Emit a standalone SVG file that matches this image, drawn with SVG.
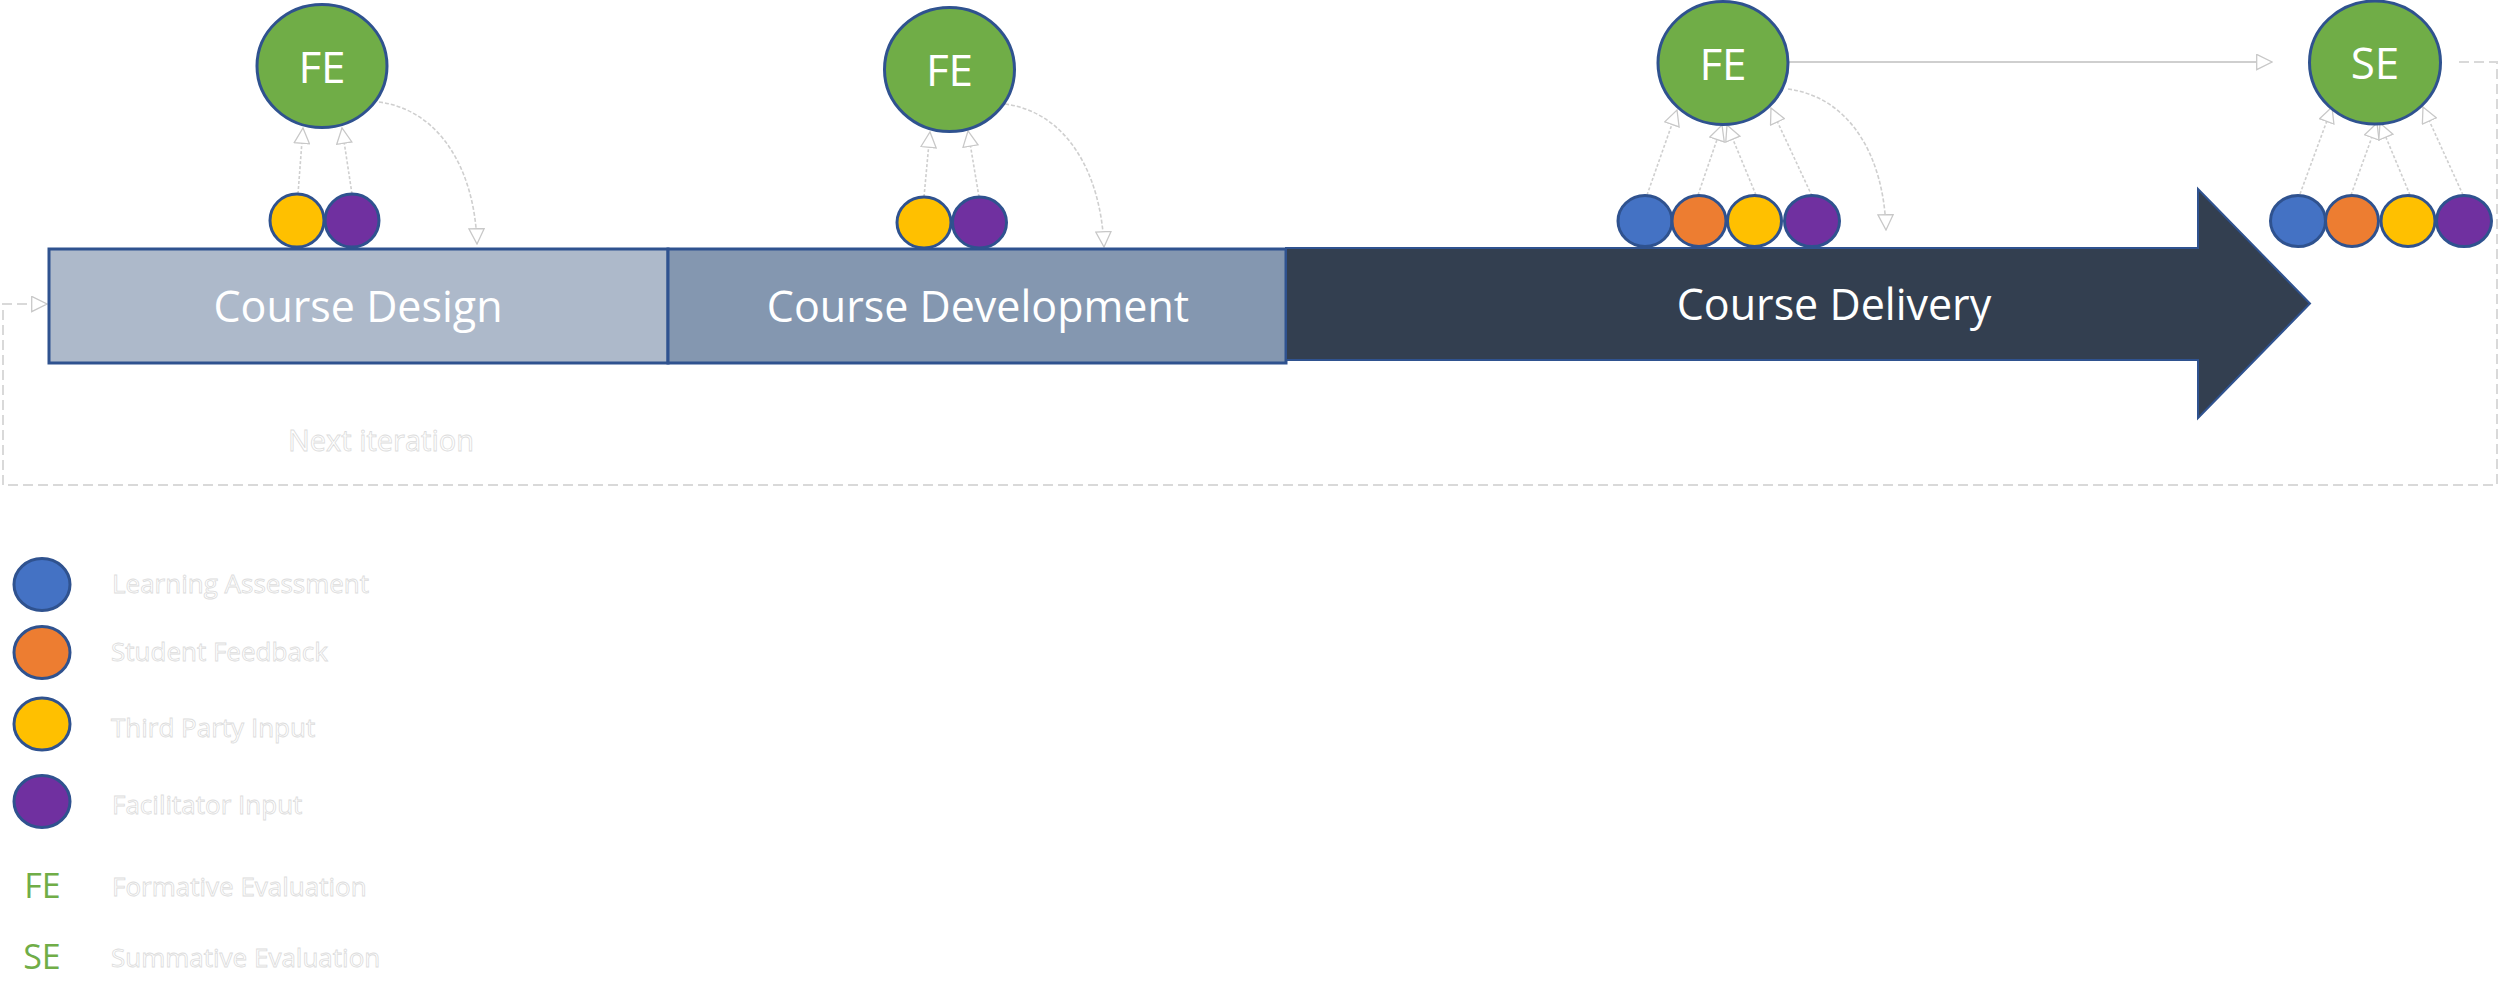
<svg xmlns="http://www.w3.org/2000/svg" width="2500" height="1004" viewBox="0 0 2500 1004">
<style>
.lbl{font-family:"Open Sans","Liberation Sans",sans-serif;fill:#fff}
.phase{font-size:43px;text-anchor:middle}
.ev{font-size:44px;text-anchor:middle}
.out{font-family:"Open Sans","Liberation Sans",sans-serif;fill:#fff;stroke:#dcdcdc;stroke-width:0.8}
.leg{font-size:26px}
.green{font-family:"Open Sans","Liberation Sans",sans-serif;fill:#70AD47;font-size:34px;text-anchor:middle}
.evc{fill:#70AD47;stroke:#2F528F;stroke-width:3}
.dot{stroke:#2F528F;stroke-width:3}
.b{fill:#4472C4}.o{fill:#ED7D31}.y{fill:#FFC000}.p{fill:#7030A0}
.up{fill:none;stroke:#cfcfcf;stroke-width:1.6;stroke-dasharray:3 2;marker-end:url(#open)}
.cv{fill:none;stroke:#cfcfcf;stroke-width:1.6;stroke-dasharray:4 2;marker-end:url(#open)}
.solid{fill:none;stroke:#cfcfcf;stroke-width:2;marker-end:url(#open)}
.loop{fill:none;stroke:#d9d9d9;stroke-width:2;stroke-dasharray:10 5;marker-end:url(#open)}
</style>
<defs>
<marker id="open" viewBox="0 0 20 20" refX="19" refY="10" markerWidth="17" markerHeight="17" markerUnits="userSpaceOnUse" orient="auto">
<path d="M1,1 L19,10 L1,19 Z" fill="#fff" stroke="#c8c8c8" stroke-width="1.5"/>
</marker>
</defs>
<rect width="2500" height="1004" fill="#fff"/>

<g id="connectors">
<path class="loop" d="M2459,62 H2497 V485 H3 V304 H47"/>
<path class="solid" d="M1789,62 H2272"/>
<path class="cv" d="M379,102 C440,110 475,170 477,244"/>
<path class="cv" d="M1005,104 C1066,112 1101,172 1104,247"/>
<path class="cv" d="M1788,89 C1849,97 1884,155 1886,230"/>
<path class="up" d="M298,194 L303,128"/>
<path class="up" d="M352,194 L342,128"/>
<path class="up" d="M924,197 L930,132"/>
<path class="up" d="M979,197 L968,131"/>
<path class="up" d="M1647,195 L1677,110"/>
<path class="up" d="M1698,195 L1722,125"/>
<path class="up" d="M1756,195 L1727,125"/>
<path class="up" d="M1812,196 L1771,108"/>
<path class="up" d="M2300,194 L2332,107"/>
<path class="up" d="M2351,195 L2377,123"/>
<path class="up" d="M2410,195 L2380,123"/>
<path class="up" d="M2463,195 L2423,107"/>
</g>

<g id="course-design">
<rect x="49" y="249" width="619" height="114" fill="#ADB9CA" stroke="#2F528F" stroke-width="3"/>
<text class="lbl phase" x="358" y="322">Course Design</text>
</g>
<g id="course-development">
<rect x="668" y="249" width="618" height="114" fill="#8497B0" stroke="#2F528F" stroke-width="3"/>
<text class="lbl phase" x="978" y="322">Course Development</text>
</g>
<g id="course-delivery">
<polygon points="1286,248 2198,248 2198,189 2310,303.5 2198,418 2198,360 1286,360" fill="#333F50" stroke="#2F528F" stroke-width="2"/>
<text class="lbl phase" x="1834" y="320">Course Delivery</text>
</g>
<g id="next-iteration">
<text class="out" x="288" y="451" font-size="29">Next iteration</text>
</g>

<g id="fe1">
<ellipse class="evc" cx="322" cy="66" rx="65" ry="61.5"/>
<text class="lbl ev" x="322" y="83">FE</text>
</g>
<g id="fe1-inputs">
<ellipse class="dot y" cx="297" cy="220.5" rx="27" ry="26.5"/>
<ellipse class="dot p" cx="352" cy="220.5" rx="27" ry="26.5"/>
</g>

<g id="fe2">
<ellipse class="evc" cx="949.5" cy="69.5" rx="65" ry="62"/>
<text class="lbl ev" x="949.5" y="86">FE</text>
</g>
<g id="fe2-inputs">
<ellipse class="dot y" cx="924" cy="222.5" rx="27" ry="25.5"/>
<ellipse class="dot p" cx="979.5" cy="222.5" rx="27" ry="25.5"/>
</g>

<g id="fe3">
<ellipse class="evc" cx="1723" cy="63" rx="65" ry="61.5"/>
<text class="lbl ev" x="1723" y="80">FE</text>
</g>
<g id="fe3-inputs">
<ellipse class="dot b" cx="1645" cy="221" rx="27" ry="25.5"/>
<ellipse class="dot o" cx="1699" cy="221" rx="27" ry="25.5"/>
<ellipse class="dot y" cx="1754.5" cy="221" rx="27" ry="25.5"/>
<ellipse class="dot p" cx="1812" cy="221" rx="27.5" ry="25.5"/>
</g>

<g id="se">
<ellipse class="evc" cx="2375" cy="62.5" rx="65.5" ry="61.5"/>
<text class="lbl ev" x="2375" y="79">SE</text>
</g>
<g id="se-inputs">
<ellipse class="dot b" cx="2298" cy="221" rx="27.5" ry="25.5"/>
<ellipse class="dot o" cx="2352" cy="221" rx="26.5" ry="25.5"/>
<ellipse class="dot y" cx="2408" cy="221" rx="27" ry="25.5"/>
<ellipse class="dot p" cx="2464" cy="221" rx="27.5" ry="25.5"/>
</g>

<g id="legend">
<ellipse class="dot b" cx="42" cy="584.5" rx="28" ry="26"/>
<text class="out leg" x="112" y="593">Learning Assessment</text>
<ellipse class="dot o" cx="42" cy="652.5" rx="28" ry="26"/>
<text class="out leg" x="111" y="661">Student Feedback</text>
<ellipse class="dot y" cx="42" cy="724" rx="28" ry="26"/>
<text class="out leg" x="111" y="737">Third Party Input</text>
<ellipse class="dot p" cx="42" cy="801.5" rx="28" ry="26"/>
<text class="out leg" x="112" y="814">Facilitator Input</text>
<text class="green" x="42.5" y="898">FE</text>
<text class="out leg" x="112" y="896">Formative Evaluation</text>
<text class="green" x="42" y="969">SE</text>
<text class="out leg" x="111" y="967">Summative Evaluation</text>
</g>
</svg>
